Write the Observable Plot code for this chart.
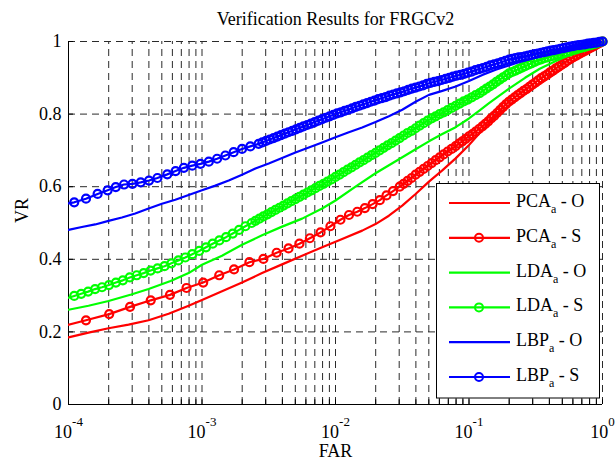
<!DOCTYPE html>
<html><head><meta charset="utf-8">
<script src="https://cdn.jsdelivr.net/npm/d3@7"></script>
<script src="https://cdn.jsdelivr.net/npm/@observablehq/plot@0.6"></script>
<style>
body{margin:0;background:#fff;}
#chart{width:616px;height:461px;}
</style></head><body><div id="chart"></div>
<script>
// ---- data: [log10(FAR), VR] ----
const pcaO = [[-4.00,0.185],[-3.85,0.198],[-3.70,0.210],[-3.55,0.220],[-3.40,0.232],[-3.25,0.250],[-3.10,0.272],[-3.00,0.288],[-2.85,0.312],[-2.70,0.336],[-2.55,0.362],[-2.40,0.386],[-2.25,0.410],[-2.10,0.433],[-1.95,0.456],[-1.80,0.479],[-1.70,0.497],[-1.60,0.520],[-1.50,0.548],[-1.40,0.580],[-1.30,0.614],[-1.20,0.645],[-1.10,0.678],[-1.00,0.715],[-0.92,0.748],[-0.82,0.787],[-0.70,0.824],[-0.58,0.856],[-0.47,0.883],[-0.35,0.912],[-0.23,0.943],[-0.12,0.968],[0,1.0]];
const pcaS = [[-4.06,0.214],[-3.869,0.232],[-3.695,0.249],[-3.539,0.269],[-3.384,0.287],[-3.240,0.302],[-3.116,0.321],[-2.991,0.336],[-2.871,0.356],[-2.760,0.372],[-2.645,0.392],[-2.540,0.401],[-2.441,0.418],[-2.352,0.430],[-2.270,0.443],[-2.192,0.458],[-2.112,0.474],[-2.038,0.491],[-1.963,0.509],[-1.899,0.522],[-1.837,0.531],[-1.780,0.541],[-1.722,0.552],[-1.668,0.563],[-1.618,0.576],[-1.569,0.588],[-1.519,0.600],[-1.490,0.608],[-1.460,0.616],[-1.430,0.624],[-1.400,0.633],[-1.370,0.641],[-1.340,0.649],[-1.310,0.657],[-1.280,0.665],[-1.250,0.673],[-1.220,0.681],[-1.190,0.689],[-1.160,0.697],[-1.130,0.704],[-1.100,0.712],[-1.075,0.719],[-1.050,0.725],[-1.025,0.732],[-1.000,0.739],[-0.975,0.745],[-0.950,0.752],[-0.925,0.759],[-0.900,0.766],[-0.878,0.773],[-0.856,0.780],[-0.834,0.788],[-0.812,0.795],[-0.790,0.803],[-0.768,0.811],[-0.746,0.819],[-0.724,0.827],[-0.702,0.834],[-0.680,0.840],[-0.658,0.846],[-0.636,0.852],[-0.614,0.858],[-0.592,0.864],[-0.570,0.869],[-0.548,0.875],[-0.526,0.881],[-0.504,0.887],[-0.482,0.893],[-0.460,0.899],[-0.438,0.904],[-0.416,0.909],[-0.394,0.915],[-0.372,0.920],[-0.350,0.926],[-0.328,0.931],[-0.306,0.936],[-0.284,0.941],[-0.262,0.947],[-0.240,0.952],[-0.218,0.957],[-0.196,0.961],[-0.174,0.966],[-0.152,0.970],[-0.130,0.974],[-0.108,0.979],[-0.086,0.983],[-0.064,0.987],[-0.042,0.992],[-0.020,0.996],[0,1.0]];
const ldaO = [[-4.00,0.261],[-3.85,0.272],[-3.70,0.285],[-3.53,0.303],[-3.40,0.318],[-3.235,0.340],[-3.10,0.362],[-3.00,0.385],[-2.85,0.410],[-2.70,0.440],[-2.55,0.466],[-2.40,0.490],[-2.25,0.512],[-2.10,0.540],[-2.00,0.562],[-1.85,0.600],[-1.70,0.637],[-1.54,0.672],[-1.40,0.703],[-1.30,0.725],[-1.20,0.745],[-1.10,0.764],[-1.00,0.788],[-0.92,0.810],[-0.85,0.830],[-0.70,0.870],[-0.58,0.900],[-0.47,0.925],[-0.35,0.946],[-0.23,0.965],[-0.12,0.982],[0,1.0]];
const ldaS = [[-4.010,0.293],[-3.957,0.299],[-3.905,0.305],[-3.853,0.311],[-3.801,0.318],[-3.749,0.323],[-3.697,0.329],[-3.645,0.336],[-3.593,0.342],[-3.541,0.350],[-3.489,0.356],[-3.437,0.362],[-3.385,0.369],[-3.333,0.375],[-3.281,0.381],[-3.229,0.389],[-3.177,0.397],[-3.125,0.405],[-3.073,0.414],[-3.021,0.423],[-2.970,0.433],[-2.920,0.443],[-2.870,0.452],[-2.820,0.461],[-2.770,0.471],[-2.722,0.481],[-2.675,0.491],[-2.628,0.500],[-2.600,0.506],[-2.570,0.512],[-2.540,0.518],[-2.510,0.524],[-2.480,0.530],[-2.450,0.536],[-2.420,0.542],[-2.390,0.548],[-2.360,0.554],[-2.330,0.560],[-2.300,0.566],[-2.270,0.572],[-2.240,0.578],[-2.210,0.584],[-2.180,0.590],[-2.150,0.596],[-2.120,0.602],[-2.090,0.608],[-2.060,0.614],[-2.030,0.620],[-2.000,0.627],[-1.970,0.633],[-1.940,0.640],[-1.910,0.647],[-1.880,0.653],[-1.850,0.660],[-1.820,0.667],[-1.790,0.673],[-1.760,0.680],[-1.730,0.687],[-1.700,0.693],[-1.670,0.700],[-1.640,0.707],[-1.610,0.714],[-1.580,0.720],[-1.550,0.727],[-1.520,0.734],[-1.490,0.741],[-1.460,0.748],[-1.430,0.754],[-1.400,0.761],[-1.370,0.768],[-1.340,0.775],[-1.310,0.782],[-1.280,0.788],[-1.250,0.794],[-1.220,0.800],[-1.190,0.805],[-1.160,0.811],[-1.130,0.817],[-1.100,0.823],[-1.070,0.829],[-1.040,0.835],[-1.010,0.840],[-0.980,0.846],[-0.950,0.852],[-0.920,0.858],[-0.895,0.864],[-0.870,0.870],[-0.845,0.876],[-0.820,0.882],[-0.795,0.889],[-0.770,0.895],[-0.745,0.901],[-0.720,0.907],[-0.700,0.912],[-0.676,0.916],[-0.652,0.920],[-0.628,0.924],[-0.604,0.928],[-0.580,0.932],[-0.556,0.936],[-0.532,0.940],[-0.508,0.944],[-0.484,0.948],[-0.460,0.951],[-0.436,0.954],[-0.412,0.956],[-0.388,0.959],[-0.364,0.961],[-0.340,0.964],[-0.316,0.966],[-0.292,0.968],[-0.268,0.971],[-0.244,0.973],[-0.220,0.976],[-0.198,0.978],[-0.176,0.981],[-0.154,0.983],[-0.132,0.985],[-0.110,0.988],[-0.088,0.990],[-0.066,0.993],[-0.044,0.995],[-0.022,0.998],[0,1.0]];
const lbpO = [[-4.00,0.481],[-3.90,0.489],[-3.80,0.496],[-3.70,0.506],[-3.60,0.515],[-3.50,0.526],[-3.40,0.540],[-3.30,0.553],[-3.20,0.564],[-3.10,0.577],[-3.00,0.590],[-2.90,0.603],[-2.80,0.617],[-2.70,0.633],[-2.60,0.650],[-2.50,0.664],[-2.40,0.679],[-2.30,0.694],[-2.20,0.708],[-2.10,0.722],[-2.00,0.736],[-1.90,0.750],[-1.80,0.763],[-1.70,0.778],[-1.60,0.794],[-1.50,0.812],[-1.40,0.834],[-1.30,0.853],[-1.20,0.864],[-1.10,0.876],[-1.00,0.891],[-0.90,0.908],[-0.80,0.922],[-0.65,0.940],[-0.50,0.956],[-0.35,0.970],[-0.20,0.984],[-0.10,0.992],[0,1.0]];
const lbpS = [[-4.02,0.553],[-3.957,0.557],[-3.869,0.567],[-3.782,0.580],[-3.707,0.590],[-3.646,0.599],[-3.584,0.606],[-3.521,0.608],[-3.459,0.612],[-3.397,0.617],[-3.334,0.624],[-3.260,0.634],[-3.198,0.643],[-3.136,0.652],[-3.073,0.658],[-3.011,0.663],[-2.949,0.669],[-2.887,0.677],[-2.825,0.686],[-2.763,0.695],[-2.700,0.704],[-2.638,0.711],[-2.576,0.718],[-2.548,0.722],[-2.520,0.726],[-2.492,0.730],[-2.464,0.734],[-2.436,0.738],[-2.408,0.742],[-2.380,0.746],[-2.352,0.750],[-2.324,0.754],[-2.296,0.758],[-2.268,0.762],[-2.240,0.766],[-2.212,0.770],[-2.184,0.774],[-2.156,0.778],[-2.128,0.782],[-2.100,0.786],[-2.072,0.790],[-2.044,0.794],[-2.016,0.798],[-1.988,0.802],[-1.960,0.805],[-1.932,0.809],[-1.904,0.812],[-1.876,0.816],[-1.848,0.820],[-1.820,0.823],[-1.792,0.827],[-1.764,0.830],[-1.736,0.834],[-1.708,0.837],[-1.680,0.841],[-1.652,0.844],[-1.624,0.847],[-1.596,0.851],[-1.568,0.854],[-1.540,0.857],[-1.512,0.860],[-1.484,0.863],[-1.456,0.867],[-1.428,0.870],[-1.400,0.873],[-1.372,0.876],[-1.344,0.879],[-1.316,0.883],[-1.288,0.886],[-1.260,0.889],[-1.232,0.891],[-1.204,0.894],[-1.176,0.897],[-1.148,0.900],[-1.120,0.903],[-1.092,0.906],[-1.064,0.908],[-1.036,0.911],[-1.008,0.914],[-0.980,0.917],[-0.952,0.921],[-0.924,0.924],[-0.896,0.927],[-0.868,0.930],[-0.840,0.934],[-0.812,0.937],[-0.784,0.940],[-0.756,0.943],[-0.728,0.947],[-0.700,0.950],[-0.676,0.952],[-0.652,0.954],[-0.628,0.956],[-0.604,0.957],[-0.580,0.959],[-0.556,0.961],[-0.532,0.963],[-0.508,0.965],[-0.484,0.967],[-0.460,0.969],[-0.436,0.971],[-0.412,0.973],[-0.388,0.975],[-0.364,0.976],[-0.340,0.978],[-0.316,0.980],[-0.292,0.982],[-0.268,0.984],[-0.244,0.986],[-0.220,0.987],[-0.198,0.989],[-0.176,0.990],[-0.154,0.991],[-0.132,0.992],[-0.110,0.994],[-0.088,0.995],[-0.066,0.996],[-0.044,0.997],[-0.022,0.999],[0,1.0]];

const methods = ["PCA","PCA","LDA","LDA","LBP","LBP"];
const suffixes = ["O","S","O","S","O","S"];
const colors = ["#ff0000","#ff0000","#00ff00","#00ff00","#0000ff","#0000ff"];
const hasMarker = [false,true,false,true,false,true];
const seriesData = [pcaO,pcaS,ldaO,ldaS,lbpO,lbpS];

const xTicks = [1e-4,1e-3,1e-2,1e-1,1];
const xTickExp = ["-4","-3","-2","-1","0"];
const yTicks = [0,0.2,0.4,0.6,0.8,1];
const yTickLabels = ["0","0.2","0.4","0.6","0.8","1"];
const titleText = "Verification Results for FRGCv2";
const xLabel = "FAR";
const yLabel = "VR";

// minor log positions (2..9 in each decade)
const xMinor = [];
for (let k = -4; k < 0; k++) for (let m = 2; m <= 9; m++) xMinor.push(m * Math.pow(10, k));

const FONT = "'Liberation Serif','Times New Roman',serif";
const gridStyle = {stroke:"#2a2a2a", strokeWidth:1, strokeDasharray:"7,5"};

const marks = [
  Plot.ruleY(yTicks.slice(1), {x1:1e-4, x2:1, ...gridStyle}),
  Plot.ruleX([...xMinor, ...xTicks.slice(1)], {y1:0, y2:1, ...gridStyle}),
  Plot.ruleX([...xMinor, ...xTicks], {y1:0, y2:0.013, stroke:"black"}),
  Plot.ruleY(yTicks, {x1:1e-4, x2:1.09e-4, stroke:"black"}),
  Plot.ruleX([1e-4], {y1:0, y2:1, stroke:"black"}),
  Plot.ruleY([0], {x1:1e-4, x2:1, stroke:"black"})
];
seriesData.forEach((s, i) => {
  const rows = s.map(([e, v]) => ({x: Math.pow(10, e), y: v}));
  marks.push(Plot.line(rows, {x:"x", y:"y", stroke:colors[i], strokeWidth:2.2, clip:true}));
  if (hasMarker[i]) {
    marks.push(Plot.dot(rows.filter(d => d.x >= 1e-4), {x:"x", y:"y", r:4, stroke:colors[i], strokeWidth:2.2, fill:"none"}));
  }
});
marks.push(
  Plot.axisX(xTicks, {tickSize:0, tickPadding:21, tickFormat:() => "10", fontSize:18, label:null}),
  Plot.axisY(yTicks, {tickSize:0, tickPadding:7, tickFormat:d => yTickLabels[yTicks.indexOf(d)], fontSize:18, label:null}),
  Plot.text([titleText], {frameAnchor:"top", lineAnchor:"bottom", dy:-17, fontSize:18}),
  Plot.text([xLabel], {frameAnchor:"bottom", lineAnchor:"bottom", dy:52, fontSize:18}),
  Plot.text([yLabel], {frameAnchor:"left", lineAnchor:"bottom", rotate:-90, dx:-41, fontSize:18})
);

const plot = Plot.plot({
  width:616, height:461,
  marginLeft:68, marginRight:14, marginTop:41, marginBottom:57,
  style:{fontFamily:FONT, fontSize:"18px", color:"black", background:"white", overflow:"visible"},
  x:{type:"log", domain:[1e-4,1]},
  y:{domain:[0,1]},
  marks
});

const svg = d3.select(plot);
svg.selectAll('g[aria-label="x-axis tick label"] text').each(function(d, i) {
  d3.select(this).append("tspan").attr("font-size", 13).attr("dy", -12).text(xTickExp[i]);
});

// legend
const lg = svg.append("g").attr("font-family", FONT).attr("font-size", 18).attr("text-anchor", "start");
lg.append("rect").attr("x",436.5).attr("y",183.5).attr("width",163).attr("height",214.5)
  .attr("fill","white").attr("stroke","black").attr("stroke-width",1);
methods.forEach((m, i) => {
  const y = 203 + i * 34.8;
  lg.append("line").attr("x1",449).attr("x2",510).attr("y1",y).attr("y2",y)
    .attr("stroke",colors[i]).attr("stroke-width",2.2);
  if (hasMarker[i]) lg.append("circle").attr("cx",479).attr("cy",y).attr("r",4)
    .attr("fill","none").attr("stroke",colors[i]).attr("stroke-width",2);
  const t = lg.append("text").attr("x",516).attr("y",y+4).attr("text-anchor","start").style("white-space","pre");
  t.append("tspan").text(m);
  t.append("tspan").attr("font-size",12).attr("dy",6).text("a");
  t.append("tspan").attr("dy",-6).text(" - " + suffixes[i]);
});

document.getElementById("chart").appendChild(plot);
</script>
</body></html>
